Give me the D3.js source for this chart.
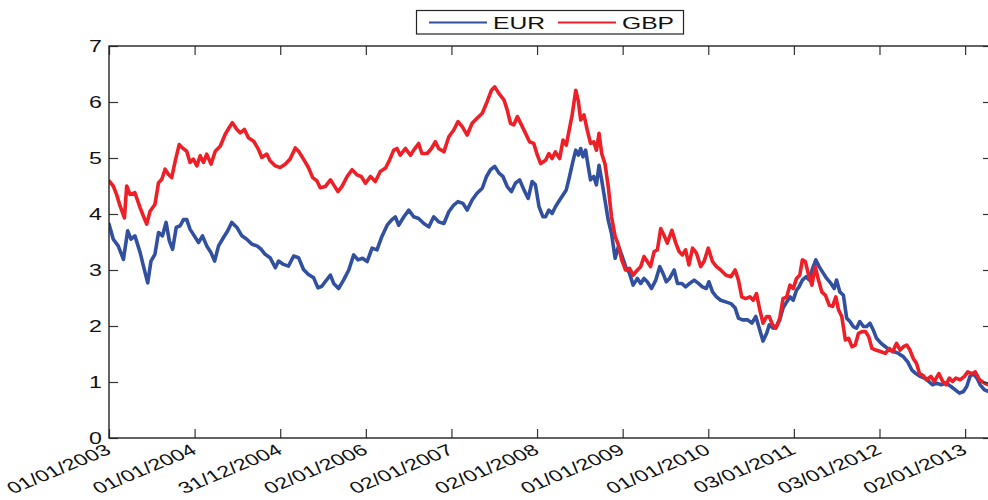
<!DOCTYPE html>
<html>
<head>
<meta charset="utf-8">
<script src="https://cdn.jsdelivr.net/npm/d3@7"></script>
<style>
  body { margin: 0; background: #fff; }
  svg { display: block; font-family: "Liberation Sans", Arial, sans-serif; }
</style>
</head>
<body>
<script>
// x axis is a trading-day index counted from 01/01/2003
var tickLabels = ["01/01/2003", "01/01/2004", "31/12/2004", "02/01/2006", "02/01/2007",
                  "02/01/2008", "01/01/2009", "01/01/2010", "03/01/2011", "03/01/2012", "02/01/2013"];
var tickDays = [0, 261, 522, 783, 1044, 1305, 1566, 1827, 2088, 2349, 2610];
var yTicks = [0, 1, 2, 3, 4, 5, 6, 7];
var seriesNames = ["EUR", "GBP"];

// [trading day, value]
var eur = [
  [0,3.82],[13,3.55],[28,3.43],[44,3.19],[57,3.70],[67,3.55],[79,3.61],[95,3.31],[105,3.07],[118,2.77],
  [128,3.16],[140,3.28],[151,3.67],[163,3.61],[174,3.85],[184,3.52],[194,3.37],[205,3.76],[217,3.79],[227,3.90],
  [237,3.90],[247,3.73],[260,3.61],[273,3.49],[285,3.61],[298,3.43],[311,3.31],[322,3.16],[334,3.43],[349,3.58],
  [362,3.70],[374,3.85],[390,3.76],[405,3.61],[420,3.55],[436,3.46],[451,3.43],[464,3.37],[476,3.28],[491,3.22],
  [507,3.04],[517,3.16],[532,3.10],[547,3.07],[563,3.25],[578,3.22],[593,3.01],[608,2.92],[624,2.86],[637,2.68],
  [649,2.71],[659,2.79],[675,2.91],[685,2.76],[700,2.67],[715,2.82],[731,3.00],[746,3.27],[759,3.18],[773,3.21],
  [787,3.15],[802,3.39],[817,3.36],[832,3.60],[848,3.80],[861,3.89],[873,3.95],[883,3.80],[899,3.95],[914,4.07],
  [929,3.95],[944,3.92],[960,3.83],[975,3.77],[990,3.95],[1005,3.86],[1021,3.83],[1036,4.04],[1051,4.16],[1064,4.22],
  [1079,4.19],[1092,4.07],[1107,4.25],[1122,4.37],[1138,4.46],[1151,4.67],[1163,4.79],[1176,4.85],[1189,4.73],[1201,4.67],
  [1214,4.49],[1227,4.40],[1239,4.55],[1252,4.61],[1265,4.43],[1278,4.28],[1290,4.58],[1300,4.52],[1311,4.13],[1323,3.95],
  [1331,3.95],[1341,4.07],[1351,4.01],[1361,4.13],[1374,4.25],[1384,4.34],[1394,4.43],[1404,4.67],[1414,4.93],[1423,5.14],
  [1431,5.05],[1438,5.17],[1445,5.02],[1453,5.14],[1461,4.85],[1468,4.61],[1478,4.67],[1486,4.52],[1494,4.87],[1502,4.61],
  [1512,4.25],[1522,3.89],[1532,3.65],[1543,3.21],[1553,3.42],[1563,3.27],[1575,3.06],[1587,2.94],[1598,2.73],[1611,2.85],
  [1621,2.76],[1631,2.85],[1641,2.79],[1654,2.67],[1667,2.82],[1679,3.06],[1689,2.94],[1699,2.79],[1709,2.85],[1723,3.00],
  [1733,2.76],[1746,2.76],[1758,2.70],[1770,2.76],[1784,2.82],[1797,2.76],[1809,2.70],[1821,2.67],[1829,2.79],[1840,2.61],
  [1852,2.52],[1865,2.46],[1880,2.43],[1896,2.40],[1909,2.32],[1919,2.14],[1931,2.11],[1947,2.11],[1960,2.05],[1972,2.17],
  [1984,1.93],[1994,1.73],[2005,1.87],[2013,2.02],[2025,1.96],[2035,1.99],[2045,2.11],[2055,2.32],[2066,2.43],[2076,2.52],
  [2086,2.46],[2096,2.64],[2104,2.70],[2114,2.82],[2125,2.88],[2135,2.82],[2145,3.03],[2155,3.18],[2165,3.06],[2178,2.94],
  [2188,2.85],[2201,2.76],[2211,2.67],[2218,2.82],[2228,2.61],[2239,2.55],[2249,2.14],[2259,2.08],[2269,1.99],[2279,1.96],
  [2289,2.08],[2300,1.99],[2310,1.99],[2320,2.05],[2330,1.93],[2340,1.78],[2354,1.69],[2367,1.63],[2379,1.57],[2394,1.54],
  [2407,1.51],[2422,1.45],[2435,1.36],[2448,1.21],[2460,1.15],[2473,1.10],[2486,1.07],[2499,1.01],[2511,0.95],[2523,0.98],
  [2537,0.95],[2552,0.98],[2567,0.92],[2580,0.86],[2593,0.80],[2605,0.83],[2615,0.92],[2625,1.10],[2635,1.15],[2646,1.07],
  [2656,0.95],[2669,0.86],[2682,0.83]
];

var gbp = [
  [0,4.59],[13,4.50],[23,4.35],[34,4.14],[47,3.93],[54,4.50],[64,4.35],[79,4.38],[95,4.11],[105,3.96],
  [115,3.82],[125,4.05],[140,4.17],[151,4.56],[161,4.62],[171,4.80],[181,4.71],[191,4.65],[202,4.95],[214,5.24],
  [224,5.18],[237,5.12],[247,4.92],[257,4.98],[268,4.86],[278,5.04],[288,4.92],[298,5.07],[311,4.89],[324,5.12],
  [339,5.21],[354,5.42],[366,5.54],[376,5.63],[390,5.51],[400,5.45],[413,5.51],[425,5.36],[441,5.30],[456,5.15],
  [466,5.01],[481,5.07],[491,4.95],[507,4.86],[522,4.83],[537,4.89],[552,4.98],[568,5.18],[578,5.12],[593,4.98],
  [608,4.83],[621,4.65],[634,4.59],[644,4.47],[659,4.49],[675,4.61],[685,4.52],[698,4.40],[710,4.49],[726,4.67],
  [741,4.79],[756,4.70],[769,4.67],[782,4.55],[797,4.67],[812,4.58],[827,4.76],[843,4.82],[855,4.96],[868,5.14],
  [878,5.17],[888,5.05],[904,5.17],[919,5.05],[929,5.14],[944,5.26],[954,5.08],[970,5.08],[983,5.17],[995,5.29],
  [1005,5.17],[1021,5.11],[1036,5.38],[1051,5.50],[1064,5.65],[1077,5.56],[1092,5.41],[1107,5.62],[1122,5.71],[1138,5.80],
  [1153,6.01],[1166,6.21],[1176,6.27],[1189,6.15],[1204,6.04],[1214,5.86],[1224,5.62],[1234,5.59],[1245,5.74],[1260,5.56],
  [1270,5.44],[1282,5.29],[1295,5.26],[1306,5.05],[1316,4.90],[1331,4.96],[1341,5.08],[1351,4.99],[1361,5.11],[1374,4.99],
  [1384,5.32],[1394,5.23],[1404,5.53],[1412,5.77],[1423,6.21],[1431,6.01],[1438,5.68],[1448,5.77],[1458,5.50],[1468,5.26],
  [1478,5.29],[1486,5.14],[1494,5.44],[1502,5.08],[1512,4.90],[1522,4.49],[1532,3.95],[1543,3.60],[1553,3.45],[1563,3.18],
  [1575,3.00],[1587,3.03],[1598,2.91],[1611,3.00],[1621,3.06],[1631,3.24],[1641,3.15],[1651,3.06],[1662,3.33],[1672,3.36],
  [1682,3.74],[1692,3.62],[1702,3.48],[1716,3.71],[1728,3.48],[1738,3.33],[1748,3.27],[1758,3.36],[1768,3.09],[1779,3.39],
  [1791,3.30],[1804,3.06],[1814,3.15],[1827,3.39],[1840,3.15],[1852,3.06],[1865,3.00],[1880,2.91],[1896,2.88],[1909,3.00],
  [1919,2.82],[1929,2.52],[1941,2.49],[1954,2.52],[1964,2.46],[1974,2.58],[1984,2.29],[1994,2.05],[2005,2.17],[2013,2.17],
  [2023,2.02],[2033,1.96],[2045,2.14],[2055,2.49],[2066,2.52],[2076,2.73],[2086,2.67],[2096,2.85],[2106,2.91],[2114,3.18],
  [2123,3.15],[2133,2.91],[2143,2.73],[2153,3.06],[2163,2.82],[2173,2.61],[2184,2.55],[2196,2.37],[2206,2.35],[2216,2.52],
  [2224,2.29],[2234,2.17],[2245,1.75],[2255,1.78],[2265,1.63],[2275,1.66],[2285,1.87],[2296,1.90],[2306,1.90],[2316,1.81],
  [2326,1.60],[2338,1.57],[2354,1.54],[2367,1.51],[2379,1.60],[2389,1.54],[2401,1.69],[2412,1.57],[2422,1.63],[2432,1.66],
  [2442,1.57],[2452,1.42],[2462,1.33],[2471,1.15],[2481,1.12],[2493,1.04],[2506,1.10],[2516,1.01],[2530,1.15],[2542,1.01],
  [2552,0.95],[2562,1.07],[2572,1.01],[2582,1.07],[2595,1.04],[2608,1.10],[2618,1.18],[2631,1.15],[2641,1.18],[2654,1.04],
  [2669,0.98],[2682,0.95]
];

var colors = ["#3250a0", "#ee1f26"];

var W = 988, H = 500;
var margin = {left: 109, top: 46};
var plotW = 883, plotH = 392;
var stretch = 1.45; // the original figure's text is drawn wide

var svg = d3.select("body").append("svg")
    .attr("width", W)
    .attr("height", H);

var x = d3.scaleLinear().domain([0, 2692]).range([0, plotW]);
var y = d3.scaleLinear().domain([0, 7]).range([plotH, 0]);

svg.append("defs").append("clipPath").attr("id", "plotclip")
  .append("rect").attr("width", plotW).attr("height", plotH);

var g = svg.append("g").attr("transform", "translate(" + margin.left + "," + margin.top + ")");

// lines
var line = d3.line()
    .x(function(d) { return x(d[0]); })
    .y(function(d) { return y(d[1]); });

g.append("g").attr("clip-path", "url(#plotclip)")
  .selectAll("path")
  .data([eur, gbp])
  .enter().append("path")
    .attr("d", line)
    .attr("fill", "none")
    .attr("stroke", function(d, i) { return colors[i]; })
    .attr("stroke-width", 3.6)
    .attr("stroke-linejoin", "round")
    .attr("stroke-linecap", "round");

// axes, ticks pointing inward
var xAxis = d3.axisBottom(x).tickValues(tickDays)
    .tickFormat(function(d, i) { return tickLabels[i]; })
    .tickSizeInner(-9).tickSizeOuter(0);
var xTop = d3.axisTop(x).tickValues(tickDays).tickFormat("")
    .tickSizeInner(-9).tickSizeOuter(0);
var yAxis = d3.axisLeft(y).tickValues(yTicks).tickFormat(d3.format("d"))
    .tickSizeInner(-9).tickSizeOuter(0);
var yRight = d3.axisRight(y).tickValues(yTicks).tickFormat("")
    .tickSizeInner(-9).tickSizeOuter(0);

var gx = g.append("g").attr("transform", "translate(0," + plotH + ")").call(xAxis);
g.append("g").call(xTop);
var gy = g.append("g").call(yAxis);
g.append("g").attr("transform", "translate(" + plotW + ",0)").call(yRight);

g.selectAll(".domain").remove();
g.selectAll(".tick line").attr("stroke", "#333").attr("stroke-width", 1.2);
g.selectAll(".tick text").attr("fill", "#111").style("font-size", "16px");

gy.selectAll(".tick text")
    .attr("x", 0).attr("dy", "0.36em")
    .attr("text-anchor", "end")
    .attr("transform", "translate(-7,0) scale(" + stretch + ",1)");

gx.selectAll(".tick text")
    .attr("y", 0).attr("dy", 0)
    .attr("text-anchor", "end")
    .attr("transform", "translate(3,15) scale(" + stretch + ",1) rotate(-31)");

g.append("rect")
    .attr("width", plotW).attr("height", plotH)
    .attr("fill", "none").attr("stroke", "#222").attr("stroke-width", 1.4);

// legend
var lg = svg.append("g").attr("transform", "translate(416.5,10.5)");
lg.append("rect").attr("width", 267).attr("height", 23.5)
    .attr("fill", "#fff").attr("stroke", "#222").attr("stroke-width", 1.2);
var items = lg.selectAll("g.item").data(seriesNames).enter().append("g")
    .attr("transform", function(d, i) { return "translate(" + (12.5 + i * 129) + ",0)"; });
items.append("line")
    .attr("x1", 0).attr("x2", 58).attr("y1", 12).attr("y2", 12)
    .attr("stroke", function(d, i) { return colors[i]; })
    .attr("stroke-width", 2);
items.append("text")
    .attr("transform", "translate(64,18) scale(" + stretch + ",1)")
    .style("font-size", "17px").attr("fill", "#111")
    .text(function(d) { return d; });
</script>
</body>
</html>
